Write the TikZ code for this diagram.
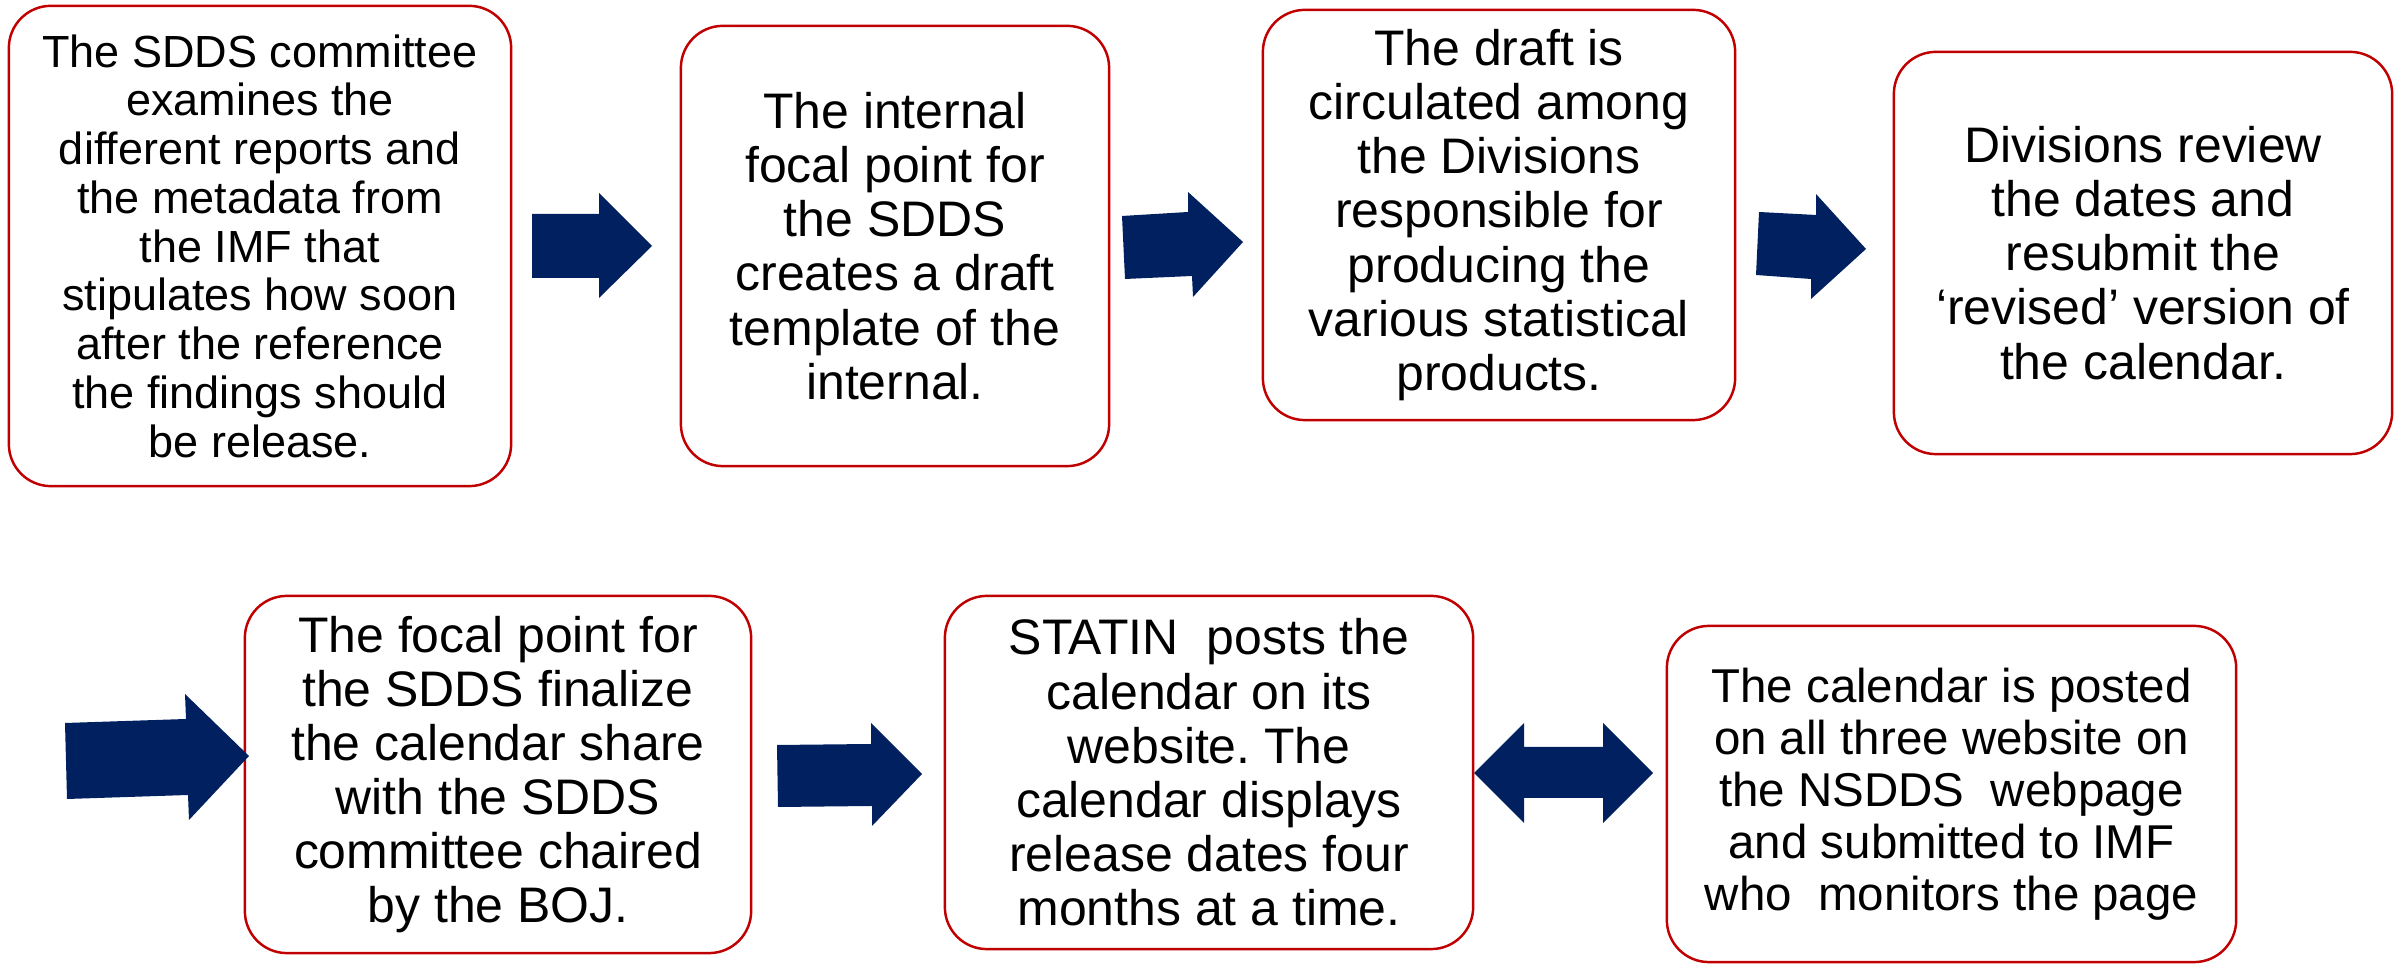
\documentclass[tikz,border=0pt]{standalone}
\usepackage{fontspec}
\setmainfont{Liberation Sans}
\frenchspacing
\definecolor{boxred}{RGB}{192,0,0}
\definecolor{navyblue}{RGB}{0,32,96}
\tikzset{
  stepbox/.style={draw=boxred, line width=0.7pt, rounded corners=0.42cm, fill=white,
    align=center, inner sep=0pt, text=black},
  bigtext/.style={font=\fontsize{14.2pt}{15.4pt}\selectfont},
  blockarrow/.style={fill=navyblue, draw=none}
}
\begin{document}
\begin{tikzpicture}[x=0.01cm, y=-0.01cm]
\useasboundingbox (0,0) rectangle (2397,965);

% row 1 boxes
\node[stepbox, minimum width=5.02cm, minimum height=4.80cm,
      font=\fontsize{12.8pt}{13.86pt}\selectfont] (b1) at (260,246)
  {The SDDS committee\\examines the\\different reports and\\the metadata from\\the IMF that\\stipulates how soon\\after the reference\\the findings should\\be release.};
\node[stepbox, bigtext, minimum width=4.28cm, minimum height=4.40cm] (b2) at (895,246)
  {The internal\\focal point for\\the SDDS\\creates a draft\\template of the\\internal.};
\node[stepbox, bigtext, minimum width=4.72cm, minimum height=4.10cm] (b3) at (1499,215)
  {The draft is\\circulated among\\the Divisions\\responsible for\\producing the\\various statistical\\products.};
\node[stepbox, bigtext, minimum width=4.98cm, minimum height=4.02cm] (b4) at (2143,253)
  {Divisions review\\the dates and\\resubmit the\\‘revised’ version of\\the calendar.};

% row 2 boxes
\node[stepbox, bigtext, minimum width=5.06cm, minimum height=3.57cm] (b5) at (498,774.5)
  {The focal point for\\the SDDS finalize\\the calendar share\\with the SDDS\\committee chaired\\by the BOJ.};
\node[stepbox, bigtext, minimum width=5.28cm, minimum height=3.53cm] (b6) at (1209,772.5)
  {STATIN~ posts the\\calendar on its\\website. The\\calendar displays\\release dates four\\months at a time.};
\node[stepbox, minimum width=5.69cm, minimum height=3.36cm,
      font=\fontsize{13.5pt}{14.8pt}\selectfont] (b7) at (1951.5,794)
  {The calendar is posted\\on all three website on\\the NSDDS~ webpage\\and submitted to IMF\\who~ monitors the page};

% block arrows, row 1
\fill[blockarrow] (532,214) -- (599,214) -- (599,193) -- (652,246) -- (599,298) -- (599,278) -- (532,278) -- cycle;
\fill[blockarrow] (1122,216) -- (1188,212) -- (1188,192) -- (1243,242) -- (1193,297) -- (1192,276) -- (1125,279) -- cycle;
\fill[blockarrow] (1759,212) -- (1816,215) -- (1816,194) -- (1866,249) -- (1811,299) -- (1811,279) -- (1756,275) -- cycle;

% block arrows, row 2
\fill[blockarrow] (65,723) -- (186,719) -- (185,694) -- (249,756) -- (189,820) -- (188,795) -- (67,799) -- cycle;
\fill[blockarrow] (777,745) -- (871,744) -- (871,723) -- (922,774) -- (872,826) -- (872,806) -- (778,807) -- cycle;
\fill[blockarrow] (1474,773) -- (1524,723) -- (1524,747) -- (1603,747) -- (1603,723) -- (1653,773)
  -- (1603,823) -- (1603,798) -- (1524,798) -- (1524,823) -- cycle;
\end{tikzpicture}
\end{document}
